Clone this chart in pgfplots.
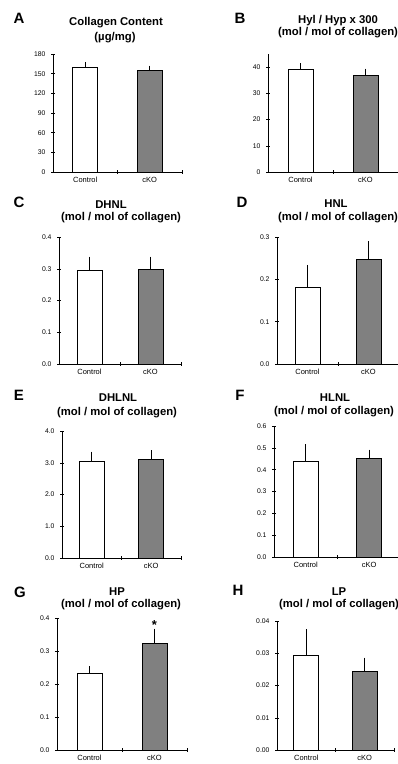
\documentclass[border=0pt]{standalone}
\usepackage{pgfplots}
\pgfplotsset{compat=1.18}
\usepackage{fontspec}
\setmainfont{Liberation Sans}
\definecolor{barg}{HTML}{808080}
\newcommand{\tf}{\fontsize{11.3}{13}\selectfont\bfseries}
\newcommand{\lf}{\fontsize{15}{17}\selectfont\bfseries}
\pgfplotsset{
 panel/.style={
  scale only axis, axis lines=left, axis line style={-, line width=0.6pt},
  xmin=0, xmax=2, ymin=0, scaled y ticks=false,
  xtick={0.5,1.5}, xticklabels={Control,cKO},
  major x tick style={draw=none},
  minor xtick={1,2},
  tick align=center, major tick length=4pt, minor tick length=4pt,
  every tick/.style={line width=0.5pt, black},
  ticklabel style={font=\fontsize{6.8}{7}\selectfont},
  yticklabel style={xshift=-2pt},
  xticklabel style={font=\fontsize{7.5}{8}\selectfont, yshift=0pt},
  /pgf/number format/assume math mode=true,
  anchor=south west, clip=false,
 },
 barbase/.style={ybar, bar shift=0pt, bar width=25pt, draw=black, line width=0.9pt,
  error bars/y dir=plus, error bars/y explicit, error bars/error bar style={line width=0.7pt},
  error bars/error mark options={black, mark size=2.5pt, line width=0.7pt}},
 ctl/.style={barbase, fill=white},
 ko/.style={barbase, fill=barg},
}
\begin{document}
\begin{tikzpicture}
\path[use as bounding box] (0,0) rectangle (398pt,764pt);
% A
\begin{axis}[panel, at={(53pt,592pt)}, width=129pt, height=118pt, ymax=180, ytick={0,30,...,180}]
\addplot[ctl] coordinates {(0.5,160) +- (0,4)};
\addplot[ko] coordinates {(1.5,154.5) +- (0,4)};
\end{axis}
% B
\begin{axis}[panel, at={(268pt,592pt)}, width=130pt, height=118pt, ymax=45, ytick={0,10,...,40}]
\addplot[ctl] coordinates {(0.5,39.2) +- (0,1.4)};
\addplot[ko] coordinates {(1.5,37.0) +- (0,1.5)};
\end{axis}
% C
\begin{axis}[panel, at={(59pt,400pt)}, width=122pt, height=127pt, ymax=0.4, ytick={0,0.1,0.2,0.3,0.4}, yticklabels={0.0,0.1,0.2,0.3,0.4}]
\addplot[ctl] coordinates {(0.5,0.294) +- (0,0.036)};
\addplot[ko] coordinates {(1.5,0.298) +- (0,0.032)};
\end{axis}
% D
\begin{axis}[panel, at={(277pt,400pt)}, width=122pt, height=127pt, ymax=0.3, ytick={0,0.1,0.2,0.3}, yticklabels={0.0,0.1,0.2,0.3}]
\addplot[ctl] coordinates {(0.5,0.182) +- (0,0.046)};
\addplot[ko] coordinates {(1.5,0.246) +- (0,0.038)};
\end{axis}
% E
\begin{axis}[panel, at={(62pt,206pt)}, width=119pt, height=127pt, ymax=4, ytick={0,1,2,3,4}, yticklabels={0.0,1.0,2.0,3.0,4.0}]
\addplot[ctl] coordinates {(0.5,3.04) +- (0,0.23)};
\addplot[ko] coordinates {(1.5,3.11) +- (0,0.20)};
\end{axis}
% F
\begin{axis}[panel, at={(274pt,207pt)}, width=127pt, height=131pt, ymax=0.6, ytick={0,0.1,0.2,0.3,0.4,0.5,0.6}, yticklabels={0.0,0.1,0.2,0.3,0.4,0.5,0.6}]
\addplot[ctl] coordinates {(0.5,0.438) +- (0,0.067)};
\addplot[ko] coordinates {(1.5,0.450) +- (0,0.030)};
\end{axis}
% G
\begin{axis}[panel, at={(57pt,14pt)}, width=130pt, height=132pt, ymax=0.4, ytick={0,0.1,0.2,0.3,0.4}, yticklabels={0.0,0.1,0.2,0.3,0.4}]
\addplot[ctl] coordinates {(0.5,0.231) +- (0,0.015)};
\addplot[ko] coordinates {(1.5,0.323) +- (0,0.037)};
\node[font=\fontsize{13}{13}\selectfont\bfseries] at (axis cs:1.5,0.38) {*};
\end{axis}
% H
\begin{axis}[panel, at={(277pt,14pt)}, width=117pt, height=129pt, ymax=0.04, ytick={0,0.01,0.02,0.03,0.04}, yticklabels={0.00,0.01,0.02,0.03,0.04}]
\addplot[ctl] coordinates {(0.5,0.0292) +- (0,0.0074)};
\addplot[ko] coordinates {(1.5,0.0243) +- (0,0.0036)};
\end{axis}
% titles
\node[font=\tf] at (116pt,741pt) {Collagen Content};
\node[font=\tf] at (115pt,726pt) {(µg/mg)};
\node[font=\tf] at (338pt,743pt) {Hyl / Hyp x 300};
\node[font=\tf] at (338pt,731pt) {(mol / mol of collagen)};
\node[font=\tf] at (111pt,559pt) {DHNL};
\node[font=\tf] at (121pt,546pt) {(mol / mol of collagen)};
\node[font=\tf] at (336pt,560pt) {HNL};
\node[font=\tf] at (338pt,546pt) {(mol / mol of collagen)};
\node[font=\tf] at (118pt,366pt) {DHLNL};
\node[font=\tf] at (117pt,351pt) {(mol / mol of collagen)};
\node[font=\tf] at (335pt,366pt) {HLNL};
\node[font=\tf] at (334pt,352pt) {(mol / mol of collagen)};
\node[font=\tf] at (117pt,172pt) {HP};
\node[font=\tf] at (121pt,159pt) {(mol / mol of collagen)};
\node[font=\tf] at (339pt,172pt) {LP};
\node[font=\tf] at (339pt,159pt) {(mol / mol of collagen)};
% letters
\node[font=\lf] at (19pt,746pt) {A};
\node[font=\lf] at (240pt,746pt) {B};
\node[font=\lf] at (19pt,562pt) {C};
\node[font=\lf] at (242pt,562pt) {D};
\node[font=\lf] at (19pt,369pt) {E};
\node[font=\lf] at (240pt,369pt) {F};
\node[font=\lf] at (20pt,172pt) {G};
\node[font=\lf] at (238pt,174pt) {H};
\end{tikzpicture}
\end{document}
